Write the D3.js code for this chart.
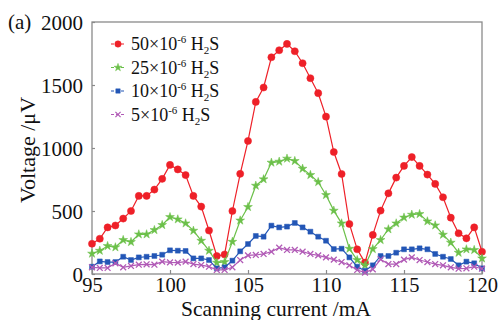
<!DOCTYPE html>
<html>
<head>
<meta charset="utf-8">
<script src="https://cdn.jsdelivr.net/npm/d3@7"></script>
<style>
  html, body { margin: 0; padding: 0; background: #fff; }
  svg { display: block; }
  svg text, svg tspan { font-family: "Liberation Serif", "Times New Roman", Times, serif !important; }
</style>
</head>
<body>
<svg id="chart" width="500" height="320" font-family="Liberation Serif"></svg>
<script>
// ---- data ----
const current = [];
for (let i = 0; i <= 50; i++) current.push(95 + i * 0.5);

const h2s50 = [240, 280, 370, 385, 440, 500, 620, 620, 670, 755, 866, 830, 785, 620, 535, 345, 143, 155, 500, 795,
  1056, 1366, 1480, 1720, 1776, 1826, 1768, 1673, 1554, 1435, 1249, 968, 794, 397, 196, 90, 310, 503, 640, 765,
  858, 928, 858, 789, 715, 609, 447, 323, 283, 370, 177];
const h2s25 = [162, 185, 222, 212, 270, 254, 315, 315, 349, 389, 452, 434, 402, 344, 264, 185, 90, 95, 256, 425,
  532, 701, 752, 884, 892, 916, 897, 836, 786, 730, 627, 503, 402, 201, 111, 69, 198, 270, 355, 402,
  448, 471, 476, 418, 386, 312, 249, 169, 196, 191, 124];
const h2s10 = [58, 100, 95, 95, 137, 111, 132, 137, 143, 153, 188, 185, 183, 124, 124, 111, 45, 53, 106, 180,
  238, 302, 296, 384, 370, 376, 405, 370, 336, 296, 264, 198, 201, 132, 58, 26, 69, 143, 143, 169,
  196, 196, 204, 196, 159, 137, 119, 69, 98, 85, 45];
const h2s5 = [53, 48, 48, 85, 53, 64, 74, 77, 74, 98, 92, 90, 98, 79, 71, 58, 32, 32, 53, 111,
  148, 151, 159, 177, 209, 191, 191, 177, 159, 148, 132, 114, 95, 69, 32, 11, 37, 117, 79, 79,
  114, 132, 111, 95, 79, 69, 53, 42, 45, 58, 42];

const seriesNames = ["50", "25", "10", "5"];
const seriesValues = [h2s50, h2s25, h2s10, h2s5];
const seriesColors = ["#ee2028", "#6cc04a", "#2356b6", "#b15ab6"];
const seriesSymbols = ["circle", "star", "square", "x"];

const xTicks = [95, 100, 105, 110, 115, 120];
const yTicks = [0, 500, 1000, 1500, 2000];

const FONT = "Liberation Serif";

// ---- layout ----
const svg = d3.select("#chart");
const L = 92, R = 482, T = 22, B = 274;
const x = d3.scaleLinear().domain([95, 120]).range([L, R]);
const y = d3.scaleLinear().domain([0, 2000]).range([B, T]);

// frame
svg.append("rect").attr("x", L).attr("y", T).attr("width", R - L).attr("height", B - T)
  .attr("fill", "none").attr("stroke", "#8a8a8a").attr("stroke-width", 1.3);

// x axis ticks (inside)
const xAxis = d3.axisBottom(x).tickValues(xTicks).tickFormat(d3.format("d"))
  .tickSizeInner(-4).tickSizeOuter(0).tickPadding(9);
const gx = svg.append("g").attr("transform", `translate(0,${B})`).call(xAxis)
  .attr("font-family", FONT).attr("font-size", 20);
gx.select(".domain").remove();
gx.selectAll("line").attr("stroke", "#8a8a8a").attr("stroke-width", 1.2);
gx.selectAll("text").attr("font-family", FONT).attr("font-size", 20.5).attr("fill", "#111")
  .attr("dy", null).attr("y", 18);

const yAxis = d3.axisLeft(y).tickValues(yTicks).tickFormat(d3.format("d"))
  .tickSizeInner(-3).tickSizeOuter(0).tickPadding(9);
const gy = svg.append("g").attr("transform", `translate(${L},0)`).call(yAxis)
  .attr("font-family", FONT).attr("font-size", 21);
gy.select(".domain").remove();
gy.selectAll("line").attr("stroke", "#8a8a8a").attr("stroke-width", 1.2);
gy.selectAll("text").attr("font-family", FONT).attr("font-size", 21).attr("fill", "#111")
  .attr("x", -9).attr("dy", "0.34em");

// titles
svg.append("text").attr("x", 276).attr("y", 316).attr("text-anchor", "middle")
  .attr("font-family", FONT).attr("font-size", 21.5).attr("fill", "#111").text("Scanning current /mA");
svg.append("text").attr("transform", "translate(35,150) rotate(-90)").attr("text-anchor", "middle")
  .attr("font-family", FONT).attr("font-size", 22).attr("fill", "#111").text("Voltage /μV");
svg.append("text").attr("x", 8).attr("y", 29)
  .attr("font-family", FONT).attr("font-size", 21).attr("fill", "#111").text("(a)");

// symbols
function symbolPath(kind, size) {
  const map = { circle: d3.symbolCircle, star: d3.symbolStar, square: d3.symbolSquare, x: d3.symbolX };
  return d3.symbol().type(map[kind]).size(size)();
}
const symSize = { circle: 40, star: 24, square: 24, x: 24 };

const line = d3.line().x((d, i) => x(current[i])).y(d => y(d));

seriesValues.forEach((vals, si) => {
  const col = seriesColors[si];
  const kind = seriesSymbols[si];
  const g = svg.append("g");
  g.append("path").datum(vals).attr("d", line).attr("fill", "none")
    .attr("stroke", col).attr("stroke-width", 1.2);
  g.selectAll("path.m").data(vals).enter().append("path").attr("class", "m")
    .attr("transform", (d, i) => `translate(${x(current[i])},${y(d)})`)
    .attr("d", symbolPath(kind, symSize[kind]))
    .attr("fill", kind === "x" ? "none" : col)
    .attr("stroke", col)
    .attr("stroke-width", kind === "x" ? 1.3 : 0.5);
});

// legend
const legY0 = 44, legDy = 23.5;
seriesNames.forEach((name, si) => {
  const col = seriesColors[si];
  const kind = seriesSymbols[si];
  const yy = legY0 + si * legDy;
  const g = svg.append("g");
  g.append("line").attr("x1", 111).attr("x2", 125).attr("y1", yy).attr("y2", yy)
    .attr("stroke", col).attr("stroke-width", 1.1).attr("stroke-dasharray", "3,2");
  g.append("path").attr("transform", `translate(118,${yy})`).attr("d", symbolPath(kind, symSize[kind] * 0.8))
    .attr("fill", kind === "x" ? "none" : col).attr("stroke", col)
    .attr("stroke-width", kind === "x" ? 1.2 : 0.5);
  const t = g.append("text").attr("x", 131).attr("y", yy + 6)
    .attr("font-family", FONT).attr("font-size", 18).attr("fill", "#111");
  t.append("tspan").text(name + "×10");
  t.append("tspan").attr("font-size", 11).attr("dy", -7).text("-6");
  t.append("tspan").attr("dy", 7).text(" H");
  t.append("tspan").attr("font-size", 11).attr("dy", 4).text("2");
  t.append("tspan").attr("dy", -4).text("S");
});
</script>
</body>
</html>
